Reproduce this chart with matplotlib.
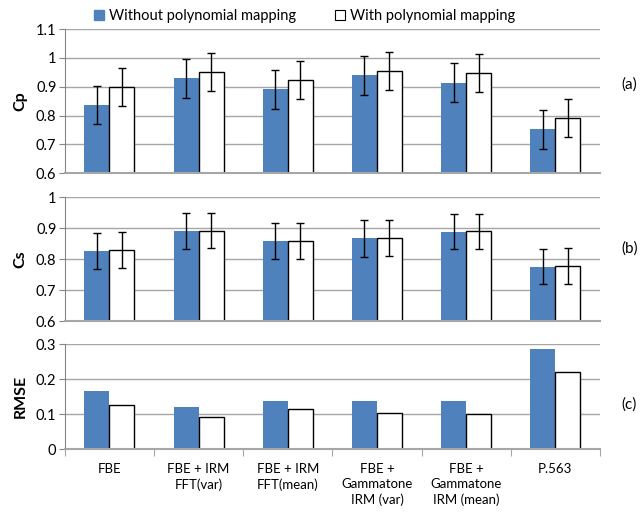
import numpy as np
import matplotlib.pyplot as plt
from matplotlib.patches import Patch

plt.rcParams['font.family'] = ['Lato', 'DejaVu Sans']

categories = ["FBE", "FBE + IRM\nFFT(var)", "FBE + IRM\nFFT(mean)",
              "FBE +\nGammatone\nIRM (var)", "FBE +\nGammatone\nIRM (mean)", "P.563"]

# Cp
cp_without = [0.838, 0.929, 0.891, 0.940, 0.914, 0.752]
cp_with = [0.898, 0.950, 0.922, 0.953, 0.947, 0.791]
cp_err_without = [0.066, 0.067, 0.067, 0.068, 0.068, 0.068]
cp_err_with = [0.066, 0.066, 0.066, 0.066, 0.066, 0.066]

# Cs
cs_without = [0.827, 0.891, 0.858, 0.867, 0.889, 0.776]
cs_with = [0.829, 0.892, 0.859, 0.868, 0.890, 0.777]
cs_err_without = [0.058, 0.057, 0.058, 0.059, 0.057, 0.058]
cs_err_with = [0.058, 0.057, 0.058, 0.059, 0.057, 0.058]

# RMSE
rmse_without = [0.165, 0.120, 0.138, 0.138, 0.136, 0.285]
rmse_with = [0.126, 0.092, 0.113, 0.103, 0.101, 0.220]

blue = '#4F81BD'
grid_col = '#A6A6A6'
barWidth = 0.28

fig = plt.figure(figsize=(6.41, 5.12), dpi=100)
ax_a = fig.add_axes([0.101, 0.662, 0.835, 0.281])
ax_b = fig.add_axes([0.101, 0.373, 0.835, 0.242])
ax_c = fig.add_axes([0.101, 0.123, 0.835, 0.205])

x = np.arange(len(categories))


def style(ax, ylim, step):
    ax.set_xlim(-0.5, len(categories) - 0.5)
    ax.set_ylim(*ylim)
    ax.set_yticks(np.arange(ylim[0], ylim[1] + step / 2, step))
    ax.yaxis.grid(True, color=grid_col, lw=1)
    ax.set_axisbelow(True)
    for s in ['top', 'right']:
        ax.spines[s].set_visible(False)
    ax.spines['left'].set_color('#868686')
    ax.spines['bottom'].set_color(grid_col)
    ax.spines['bottom'].set_linewidth(1.5)
    ax.tick_params(axis='y', length=4, color='#868686', labelsize=10.5, pad=2)


def bars(ax, a, b, ea=None, eb=None):
    ek = dict(ecolor='black', elinewidth=1, capsize=3, capthick=1)
    ax.bar(x - barWidth / 2, a, barWidth, color=blue, yerr=ea, error_kw=ek, zorder=2)
    ax.bar(x + barWidth / 2, b, barWidth, color='white', edgecolor='black',
           linewidth=1, yerr=eb, error_kw=ek, zorder=2)


bars(ax_a, cp_without, cp_with, cp_err_without, cp_err_with)
style(ax_a, (0.6, 1.1), 0.1)
ax_a.set_yticklabels(['0.6', '0.7', '0.8', '0.9', '1', '1.1'])
ax_a.set_xticks([])
ax_a.set_ylabel('Cp', fontsize=11.5, fontweight='bold', labelpad=6)

bars(ax_b, cs_without, cs_with, cs_err_without, cs_err_with)
style(ax_b, (0.6, 1.0), 0.1)
ax_b.set_yticklabels(['0.6', '0.7', '0.8', '0.9', '1'])
ax_b.set_xticks([])
ax_b.set_ylabel('Cs', fontsize=11.5, fontweight='bold', labelpad=6)

bars(ax_c, rmse_without, rmse_with)
style(ax_c, (0, 0.3), 0.1)
ax_c.set_yticklabels(['0', '0.1', '0.2', '0.3'])
ax_c.set_xticks(np.arange(-0.5, len(categories)))
ax_c.set_xticklabels([])
ax_c.set_xticks(x, minor=True)
ax_c.set_xticklabels(categories, minor=True, fontsize=9.5, linespacing=1.3)
ax_c.tick_params(axis='x', which='major', length=5, color=grid_col)
ax_c.tick_params(axis='x', which='minor', length=0, pad=10)
for t in ax_c.get_xticklabels(minor=True):
    t.set_verticalalignment('top')
ax_c.set_ylabel('RMSE', fontsize=11.5, fontweight='bold', labelpad=6)

fig.text(0.970, 0.835, '(a)', fontsize=11, va='center')
fig.text(0.970, 0.515, '(b)', fontsize=11, va='center')
fig.text(0.970, 0.21, '(c)', fontsize=11, va='center')

handles = [Patch(facecolor=blue, edgecolor=blue, label='Without polynomial mapping'),
           Patch(facecolor='white', edgecolor='black', linewidth=0.8, label='With polynomial mapping')]
fig.legend(handles=handles, loc='center', bbox_to_anchor=(0.475, 0.968), ncol=2, frameon=False,
           fontsize=10.5, handlelength=0.7, handleheight=0.7, handletextpad=0.3,
           columnspacing=2.7)

plt.savefig('out.png', dpi=100)
